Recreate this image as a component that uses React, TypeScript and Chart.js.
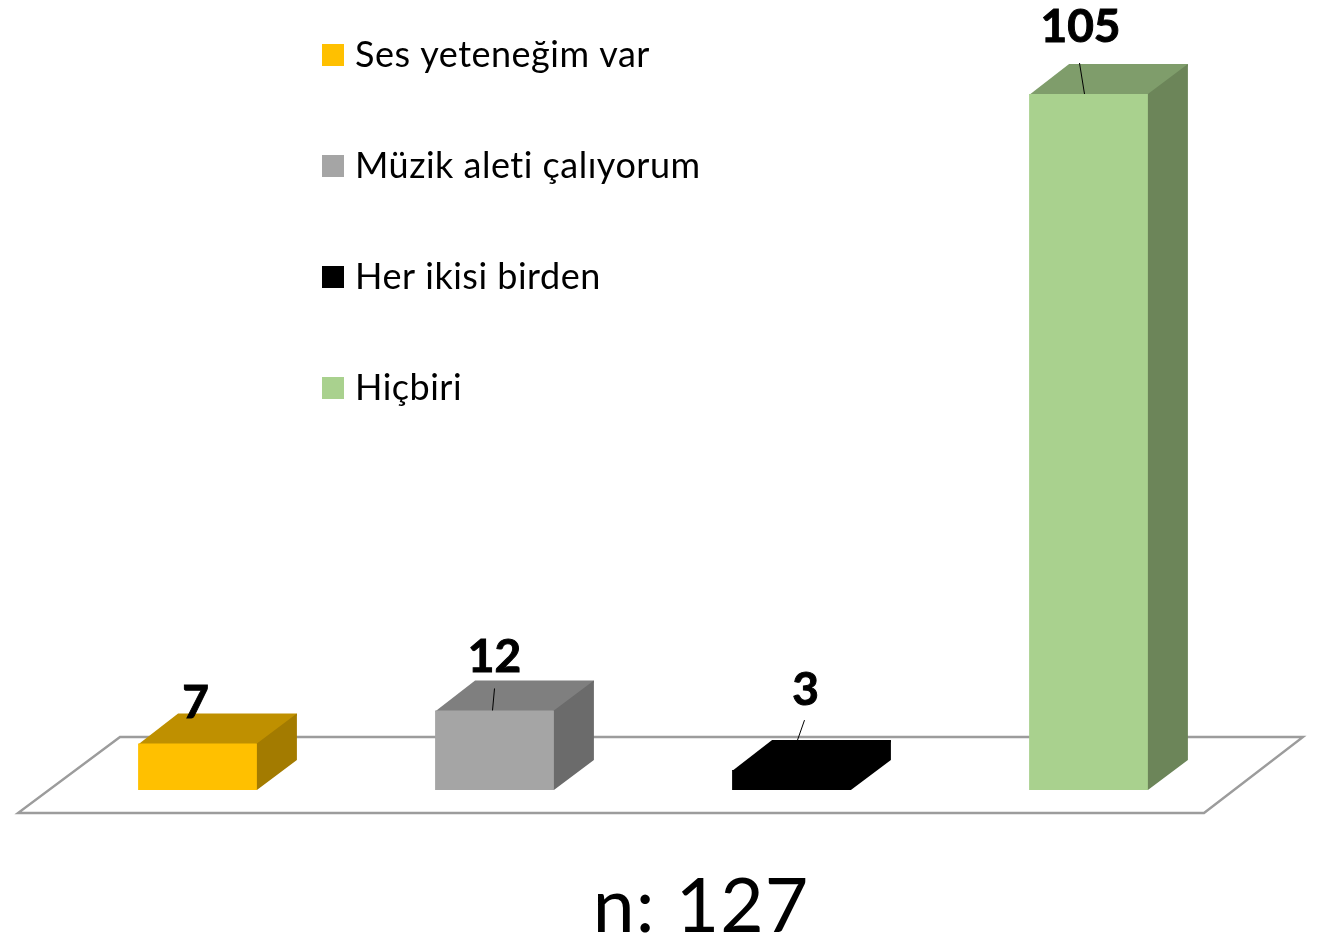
import React, { useEffect, useRef } from "react";
import { Chart, registerables } from "chart.js";

Chart.register(...registerables);

const categories = ["Ses yeteneğim var", "Müzik aleti çalıyorum", "Her ikisi birden", "Hiçbiri"];
const values = [7, 12, 3, 105];
const frontColors = ["#FFC000", "#A5A5A5", "#000000", "#A9D18E"];
const topColors = ["#BF9000", "#7F7F7F", "#000000", "#7F9D6B"];
const sideColors = ["#A37B00", "#6B6B6B", "#000000", "#6C8559"];
const sampleNote = "n: 127";

const FONT = "Lato, Carlito, sans-serif";
const DEPTH_X = 40;
const DEPTH_Y = 30;

const bar3dPlugin = {
  id: "bar3d",
  beforeDatasetsDraw(chart: any) {
    const { ctx, chartArea, scales } = chart;
    const base = scales.y.getPixelForValue(0);
    // floor
    ctx.save();
    ctx.strokeStyle = "#9C9C9C";
    ctx.lineWidth = 2.4;
    ctx.lineJoin = "miter";
    ctx.beginPath();
    ctx.moveTo(chartArea.left - 31, base + 23);
    ctx.lineTo(chartArea.right - 33, base + 23);
    ctx.lineTo(chartArea.right + 66, base - 53);
    ctx.lineTo(chartArea.left + 71, base - 53);
    ctx.closePath();
    ctx.stroke();
    // top and side faces
    chart.getDatasetMeta(0).data.forEach((el: any, i: number) => {
      const p = el.getProps(["x", "y", "base", "width"], true);
      const l = p.x - p.width / 2;
      const r = p.x + p.width / 2;
      ctx.fillStyle = topColors[i];
      ctx.beginPath();
      ctx.moveTo(l, p.y + 1);
      ctx.lineTo(l + DEPTH_X, p.y - DEPTH_Y);
      ctx.lineTo(r + DEPTH_X, p.y - DEPTH_Y);
      ctx.lineTo(r + DEPTH_X, p.y - DEPTH_Y + 2);
      ctx.lineTo(r + 1, p.y + 1);
      ctx.closePath();
      ctx.fill();
      ctx.fillStyle = sideColors[i];
      ctx.beginPath();
      ctx.moveTo(r - 1, p.y);
      ctx.lineTo(r, p.y);
      ctx.lineTo(r + DEPTH_X, p.y - DEPTH_Y);
      ctx.lineTo(r + DEPTH_X, p.base - DEPTH_Y);
      ctx.lineTo(r, p.base);
      ctx.lineTo(r - 1, p.base);
      ctx.closePath();
      ctx.fill();
    });
    ctx.restore();
  },
  afterDatasetsDraw(chart: any) {
    const { ctx } = chart;
    const labelDx = [-2, 0, 14, -8];
    const labelLift = [26, 38, 65, 52];
    const leaders: number[][] = [[0, 0, 0, 0], [-2, 0, 0, -22], [6, 0, 13, -20], [-4, 0, -9, -31]];
    ctx.save();
    chart.getDatasetMeta(0).data.forEach((el: any, i: number) => {
      const p = el.getProps(["x", "y"], true);
      const lead = leaders[i];
      if (lead[3] !== 0) {
        const topY = i === 2 ? p.y - DEPTH_Y : p.y;
        ctx.strokeStyle = "#000000";
        ctx.lineWidth = 1;
        ctx.beginPath();
        ctx.moveTo(p.x + lead[0], topY + lead[1]);
        ctx.lineTo(p.x + lead[2], topY + lead[3]);
        ctx.stroke();
      }
      ctx.fillStyle = "#000000";
      ctx.strokeStyle = "#000000";
      ctx.lineWidth = 1;
      ctx.font = `bold 46px ${FONT}`;
      ctx.textAlign = "center";
      ctx.textBaseline = "alphabetic";
      const text = String(values[i]);
      ctx.fillText(text, p.x + labelDx[i], p.y - labelLift[i]);
      ctx.strokeText(text, p.x + labelDx[i], p.y - labelLift[i]);
    });
    // legend
    ctx.font = `36px ${FONT}`;
    ctx.textAlign = "left";
    (ctx as any).letterSpacing = "0.5px";
    categories.forEach((name, i) => {
      const y = 55 + i * 111;
      ctx.fillStyle = frontColors[i];
      ctx.fillRect(322, y - 11, 22, 22);
      ctx.fillStyle = "#000000";
      ctx.fillText(name, 355, y + 12);
    });
    // note
    ctx.font = `75px ${FONT}`;
    ctx.textAlign = "center";
    (ctx as any).letterSpacing = "1px";
    ctx.fillText(sampleNote, 701, 932);
    ctx.restore();
  },
};

export default function App() {
  const ref = useRef<HTMLCanvasElement>(null);
  useEffect(() => {
    document.body.style.margin = "0";
    document.body.style.background = "#ffffff";
    const chart = new Chart(ref.current as HTMLCanvasElement, {
      type: "bar",
      data: {
        labels: categories,
        datasets: [
          {
            data: values,
            backgroundColor: frontColors,
            borderWidth: 0,
            barPercentage: 0.4,
            categoryPercentage: 1,
          },
        ],
      },
      options: {
        responsive: false,
        animation: false,
        layout: { padding: { left: 49, right: 81, top: 94, bottom: 149 } },
        plugins: { legend: { display: false }, tooltip: { enabled: false } },
        scales: {
          x: { display: false },
          y: { display: false, min: 0, max: 105 },
        },
      },
      plugins: [bar3dPlugin],
    } as any);
    return () => chart.destroy();
  }, []);
  return (
    <div style={{ width: 1318, height: 939, background: "#ffffff" }}>
      <canvas ref={ref} width={1318} height={939} style={{ display: "block" }} />
    </div>
  );
}
